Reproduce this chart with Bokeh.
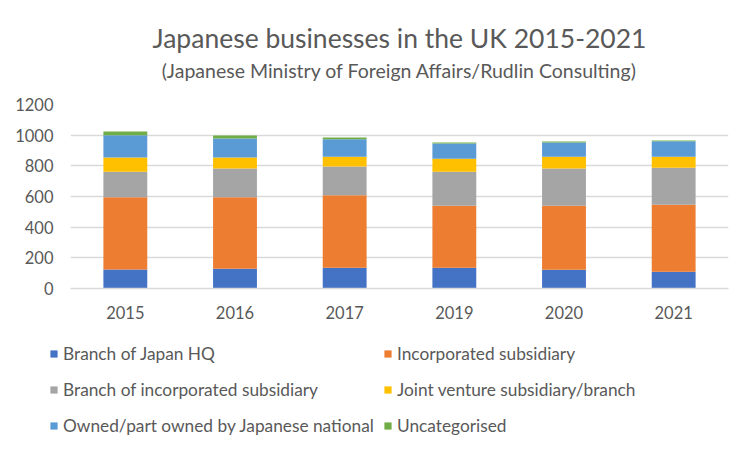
from bokeh.plotting import figure
from bokeh.models import Title, Legend, LegendItem, ColumnDataSource
from bokeh.embed import file_html
from bokeh.resources import INLINE

years = ["2015", "2016", "2017", "2019", "2020", "2021"]
branch_hq = [124, 128, 135, 135, 122, 109]
incorporated = [471, 467, 473, 405, 418, 438]
branch_inc = [167, 187, 187, 222, 242, 241]
joint_venture = [92, 72, 65, 85, 78, 72]
owned_national = [146, 124, 114, 98, 92, 100]
uncategorised = [24, 20, 10, 7, 6, 5]
series_names = ["Branch of Japan HQ", "Incorporated subsidiary",
                "Branch of incorporated subsidiary", "Joint venture subsidiary/branch",
                "Owned/part owned by Japanese national", "Uncategorised"]
y_ticks = [0, 200, 400, 600, 800, 1000, 1200]

colors = ["#4472C4", "#ED7D31", "#A5A5A5", "#FFC000", "#5B9BD5", "#70AD47"]
keys = ["hq", "inc", "binc", "jv", "own", "unc"]
source = ColumnDataSource(dict(year=years, hq=branch_hq, inc=incorporated, binc=branch_inc,
                               jv=joint_venture, own=owned_national, unc=uncategorised))

FONT = "Lato"
TXT = "#595959"

p = figure(x_range=years, y_range=(0, 1200), width=736, height=330,
           output_backend="svg", toolbar_location=None, title=None,
           min_border_left=70, min_border_right=8, min_border_top=104, min_border_bottom=42)

rs = p.vbar_stack(keys, x="year", width=0.4, color=colors, source=source, line_color=None)

p.yaxis.ticker = y_ticks
p.yaxis.axis_line_color = None
p.yaxis.major_tick_line_color = None
p.yaxis.minor_tick_line_color = None
p.yaxis.major_label_standoff = 11
p.xaxis.axis_line_color = "#D9D9D9"
p.xaxis.axis_line_width = 1.5
p.xaxis.major_tick_line_color = None
p.xaxis.major_label_standoff = 11
for ax in (p.xaxis, p.yaxis):
    ax.major_label_text_font = FONT
    ax.major_label_text_font_size = "16.5px"
    ax.major_label_text_color = TXT
p.xgrid.grid_line_color = None
p.ygrid.grid_line_color = "#D9D9D9"
p.ygrid.grid_line_width = 1.5
p.outline_line_color = None

spacer = Title(text=" ", text_font_size="1px", standoff=16)
p.add_layout(spacer, "above")
sub = Title(text="(Japanese Ministry of Foreign Affairs/Rudlin Consulting)", align="center",
            text_font=FONT, text_font_size="19.5px", text_color=TXT, text_font_style="normal",
            offset=-24, standoff=7)
p.add_layout(sub, "above")
main = Title(text="Japanese businesses in the UK 2015-2021", align="center",
             text_font=FONT, text_font_size="26.5px", text_color=TXT, text_font_style="normal",
             offset=-23, standoff=0)
p.add_layout(main, "above")

# legend strip (second root, same series & colours)
p2 = figure(x_range=years, y_range=(5000, 6000), width=736, height=106,
            output_backend="svg", toolbar_location=None, title=None,
            x_axis_type=None, y_axis_type=None, min_border=0)
p2.grid.grid_line_color = None
p2.outline_line_color = None
rs2 = p2.vbar_stack(keys, x="year", width=0.4, color=colors, source=source, line_color=None)

def make_legend(idx, x):
    return Legend(items=[LegendItem(label=series_names[i], renderers=[rs2[i]]) for i in idx],
                  location=(x, 0),
                  label_text_font=FONT, label_text_font_size="17.3px", label_text_color=TXT,
                  glyph_width=9, glyph_height=9, label_height=20, label_standoff=5,
                  spacing=15, padding=0, margin=0, border_line_color=None,
                  background_fill_alpha=0)

p2.add_layout(make_legend([0, 2, 4], 49), "center")
p2.add_layout(make_legend([1, 3, 5], 383), "center")

open("out.html", "w").write(file_html([p, p2], INLINE))
